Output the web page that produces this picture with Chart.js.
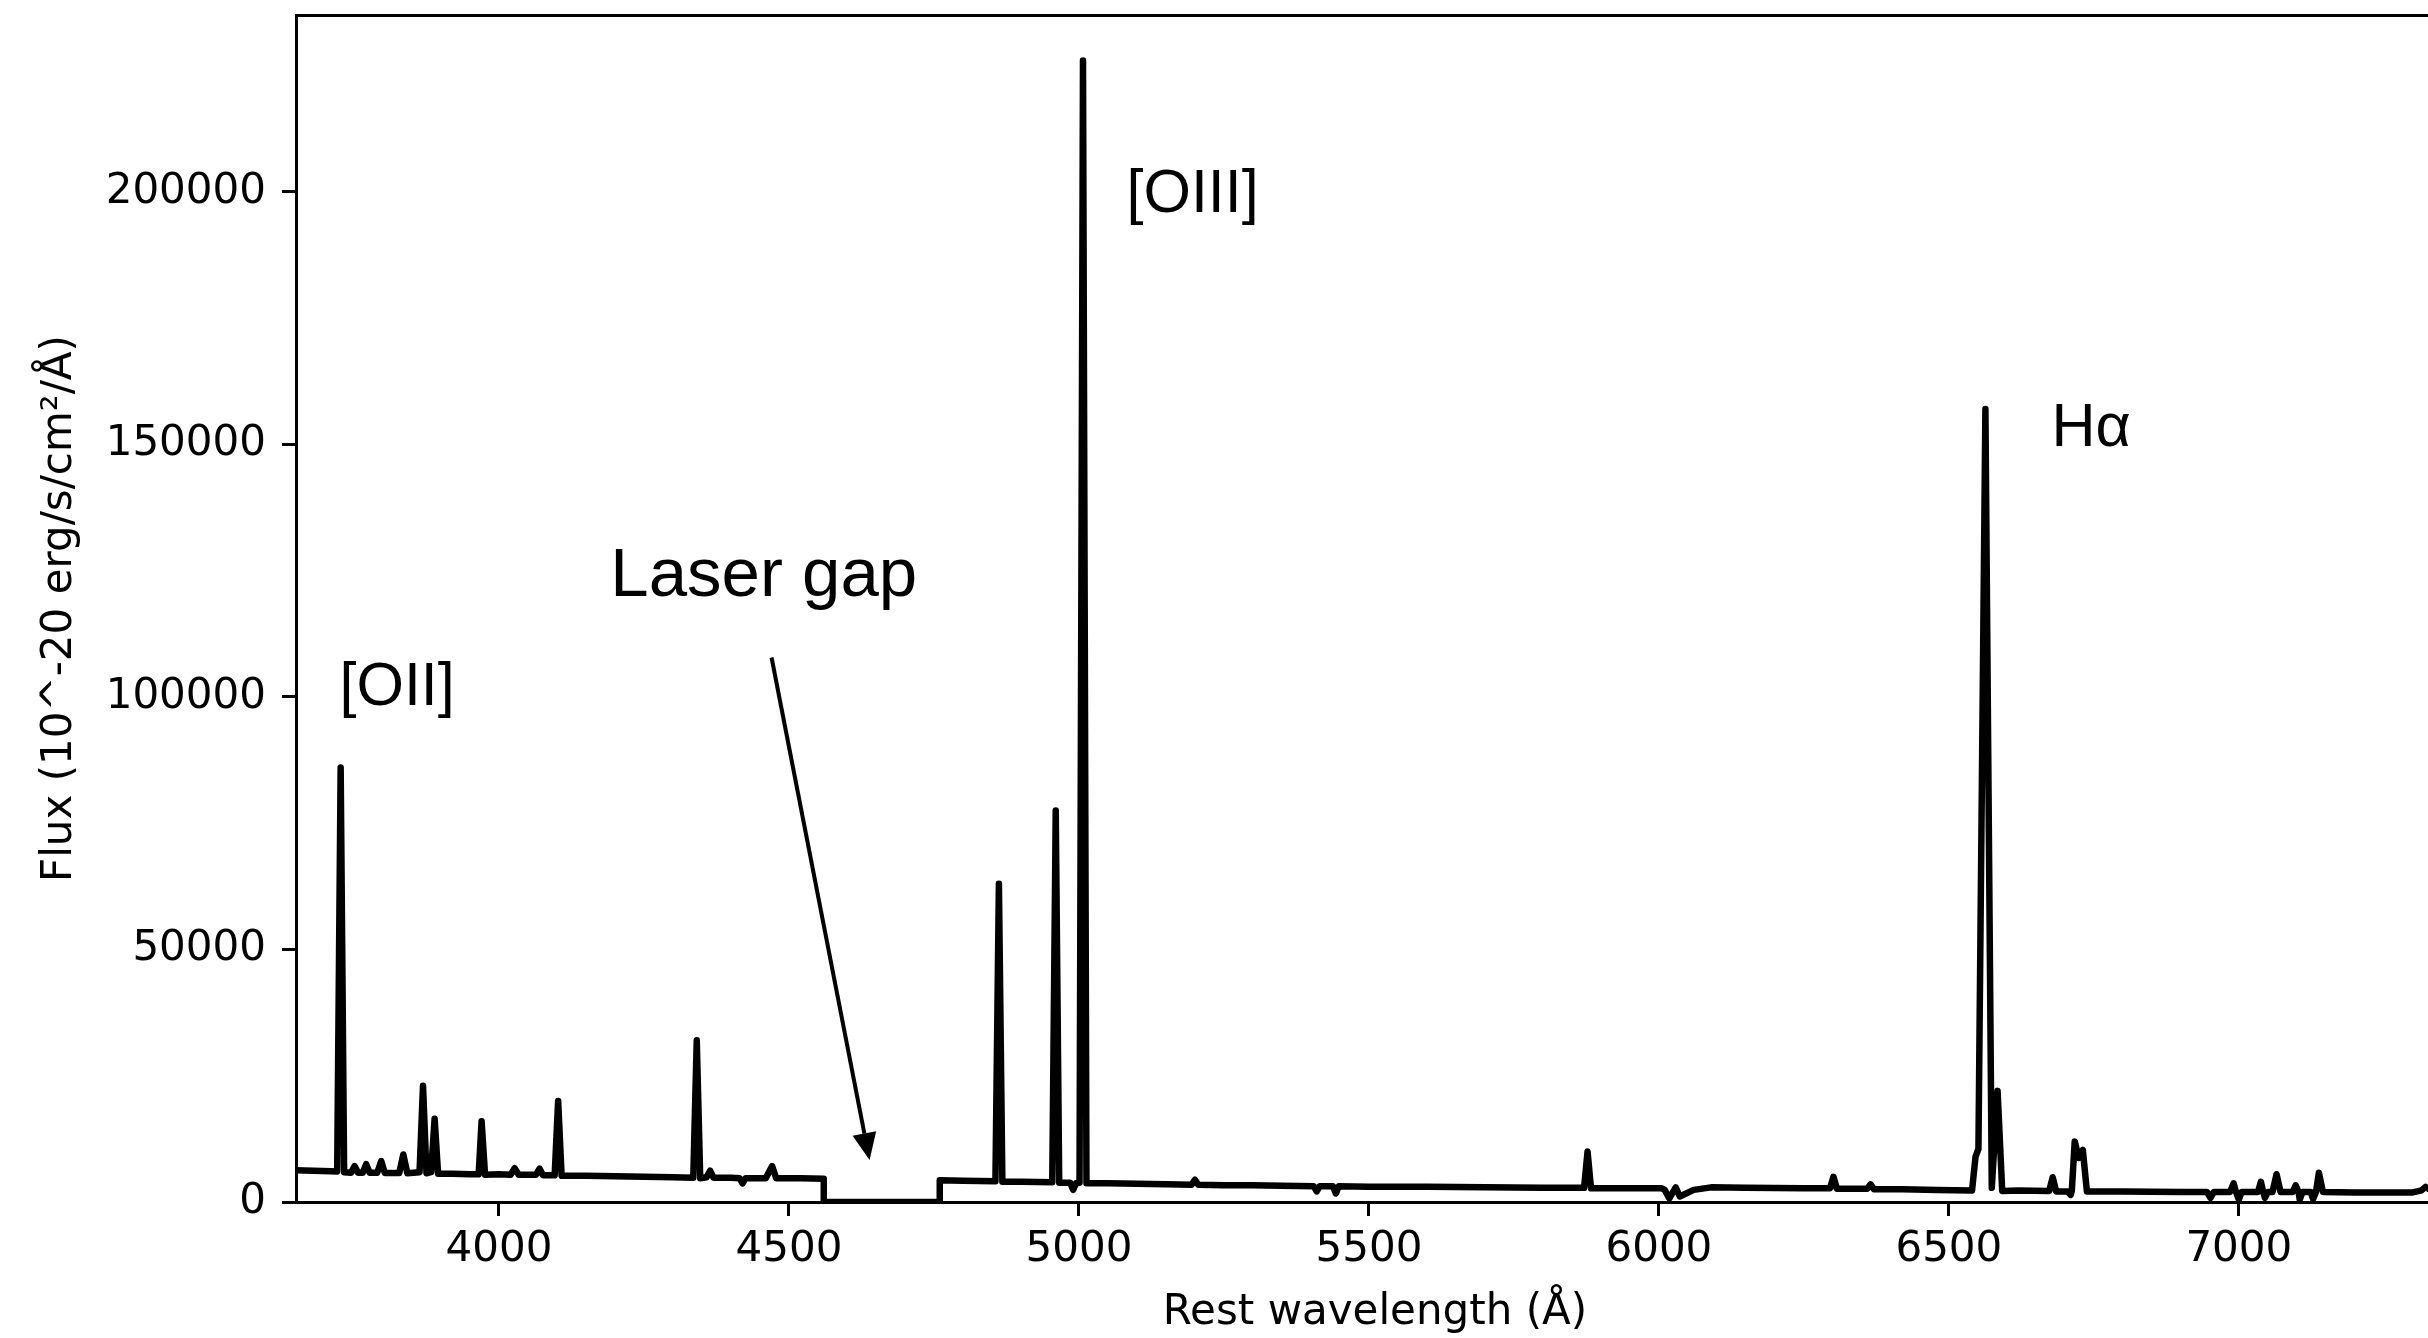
<!DOCTYPE html>
<html>
<head>
<meta charset="utf-8">
<script src="https://cdn.jsdelivr.net/npm/chart.js@4"></script>
<style>
  html, body { margin: 0; padding: 0; background: #fff; overflow: hidden; }
  canvas { display: block; }
</style>
</head>
<body>
<canvas id="spectrum" width="2460" height="1338"></canvas>
<script>
// blue arm, up to the laser notch
const blueWave = [3650, 3680, 3710, 3721, 3727, 3733, 3745, 3751, 3757, 3765, 3771, 3777, 3790, 3797, 3803,
  3828, 3835, 3842, 3863, 3869, 3875, 3883, 3889, 3895, 3920, 3950, 3965, 3970, 3976, 4000,
  4020, 4027, 4034, 4064, 4070, 4076, 4096, 4102, 4108, 4150, 4200, 4250, 4300, 4335, 4341,
  4347, 4358, 4364, 4370, 4400, 4415, 4420, 4425, 4460, 4471, 4478, 4520, 4560];
const blueFlux = [6300, 6200, 6100, 6050, 86000, 5900, 5800, 7100, 5800, 5800, 7500, 5800, 5800, 8100, 5750,
  5750, 9400, 5700, 5900, 23000, 5700, 5900, 16500, 5600, 5600, 5500, 5500, 16000, 5400, 5500,
  5400, 6700, 5400, 5400, 6600, 5300, 5300, 20000, 5200, 5200, 5100, 5000, 4900, 4800, 32000,
  4700, 4900, 6200, 4800, 4800, 4700, 3700, 4700, 4700, 7100, 4700, 4700, 4600];

// laser notch: no flux
const gapWave = [4560, 4760];
const gapFlux = [0, 0];

// red arm
const redWave = [4760, 4800, 4856, 4862, 4868, 4900, 4954, 4960, 4966, 4985, 4990, 4995, 5001, 5007, 5013,
  5050, 5100, 5150, 5194, 5200, 5206, 5250, 5300, 5350, 5405, 5410, 5415, 5438, 5443, 5448,
  5500, 5600, 5700, 5800, 5871, 5877, 5883, 5950, 6005, 6010, 6018, 6029, 6036, 6060, 6090,
  6150, 6250, 6295, 6301, 6307, 6359, 6365, 6371, 6420, 6480, 6540, 6546, 6551, 6563, 6574,
  6584, 6592, 6620, 6673, 6679, 6685, 6705, 6710, 6712, 6717, 6724, 6731, 6738, 6800, 6900,
  6945, 6951, 6957, 6985, 6991, 6995, 7000, 7005, 7033, 7038, 7042, 7045, 7050, 7058, 7065,
  7072, 7093, 7098, 7103, 7105, 7110, 7124, 7128, 7133, 7138, 7145, 7200, 7250, 7300, 7315,
  7322, 7330, 7371];
const redFlux = [4300, 4200, 4100, 63000, 4000, 4000, 3900, 77500, 3800, 3800, 2400, 3700, 3800, 226000, 3700,
  3700, 3600, 3500, 3400, 4400, 3400, 3300, 3300, 3200, 3100, 2100, 3100, 3100, 1700, 3100,
  3000, 3000, 2900, 2800, 2800, 10000, 2700, 2700, 2700, 2400, 700, 2900, 1100, 2400, 2900,
  2800, 2700, 2700, 5000, 2600, 2600, 3500, 2500, 2500, 2400, 2300, 9000, 10500, 157000, 2800,
  22000, 2200, 2300, 2200, 4900, 2100, 2100, 1400, 2200, 12000, 8700, 10300, 2100, 2100, 2000,
  2000, 800, 2000, 2000, 3700, 2000, 500, 2000, 2000, 4000, 2000, 800, 2000, 2000, 5500,
  2000, 2000, 3300, 2000, 500, 2000, 2000, 600, 2000, 5800, 2000, 1900, 1900, 1900, 2300,
  3000, 2400, 1900];

const xTicks = [4000, 4500, 5000, 5500, 6000, 6500, 7000];
const yTicks = [0, 50000, 100000, 150000, 200000];

// line labels, anchored at (wavelength, flux) like text in data coordinates
const labelText = ['[OII]', '[OIII]', 'H\u03b1'];
const labelWave = [3725, 5082, 6677];
const labelFlux = [98400, 196000, 149600];

const gapText = 'Laser gap';
const gapTextAt = [4192, 120000];
const arrowFrom = [4470, 107800];
const arrowTo = [4639, 8300];

const toPoints = (w, f) => w.map((x, i) => ({ x: x, y: f[i] }));
const spectrum = toPoints(blueWave, blueFlux)
  .concat(toPoints(gapWave, gapFlux))
  .concat(toPoints(redWave, redFlux));

Chart.defaults.font.family = "'DejaVu Sans'";
Chart.defaults.color = '#000';

const annotations = {
  id: 'annotations',
  afterDatasetsDraw(chart) {
    const { ctx, scales: { x, y } } = chart;
    ctx.save();
    ctx.fillStyle = '#000';
    ctx.strokeStyle = '#000';
    ctx.textAlign = 'left';
    ctx.textBaseline = 'alphabetic';

    ctx.font = "61px 'Liberation Sans'";
    labelText.forEach((t, i) => {
      ctx.fillText(t, x.getPixelForValue(labelWave[i]), y.getPixelForValue(labelFlux[i]));
    });

    ctx.font = "69px 'Liberation Sans'";
    ctx.fillText(gapText, x.getPixelForValue(gapTextAt[0]), y.getPixelForValue(gapTextAt[1]));

    // arrow pointing into the notch
    const x0 = x.getPixelForValue(arrowFrom[0]), y0 = y.getPixelForValue(arrowFrom[1]);
    const x1 = x.getPixelForValue(arrowTo[0]), y1 = y.getPixelForValue(arrowTo[1]);
    const ang = Math.atan2(y1 - y0, x1 - x0);
    const headLen = 27, headHalf = 12;
    const bx = x1 - headLen * Math.cos(ang), by = y1 - headLen * Math.sin(ang);
    ctx.lineWidth = 4;
    ctx.beginPath();
    ctx.moveTo(x0, y0);
    ctx.lineTo(bx, by);
    ctx.stroke();
    ctx.beginPath();
    ctx.moveTo(x1, y1);
    ctx.lineTo(bx + headHalf * Math.sin(ang), by - headHalf * Math.cos(ang));
    ctx.lineTo(bx - headHalf * Math.sin(ang), by + headHalf * Math.cos(ang));
    ctx.closePath();
    ctx.fill();
    ctx.restore();
  }
};

const tickFont = { family: "'DejaVu Sans'", size: 42 };

new Chart(document.getElementById('spectrum'), {
  type: 'line',
  data: {
    datasets: [{
      data: spectrum,
      borderColor: '#000',
      borderWidth: 6.5,
      borderJoinStyle: 'round',
      borderCapStyle: 'round',
      pointRadius: 0,
      tension: 0,
      fill: false
    }]
  },
  options: {
    responsive: false,
    animation: false,
    devicePixelRatio: 1,
    layout: { padding: { left: 0, top: 15, right: 6, bottom: 0 } },
    plugins: {
      legend: { display: false },
      tooltip: { enabled: false }
    },
    scales: {
      x: {
        type: 'linear',
        position: 'bottom',
        min: 3650,
        max: 7371,
        afterBuildTicks: (s) => { s.ticks = xTicks.map(v => ({ value: v })); },
        afterFit: (s) => { s.height = 136; s.paddingLeft = 0; s.paddingRight = 0; },
        grid: { drawOnChartArea: false, drawTicks: true, tickLength: 14, tickWidth: 3, tickColor: '#000' },
        border: { display: true, color: '#000', width: 3 },
        ticks: { font: tickFont, color: '#000', padding: 9, maxRotation: 0, autoSkip: false, callback: (v) => String(v) },
        title: { display: true, text: 'Rest wavelength (Å)', font: tickFont, color: '#000', padding: { top: 0, bottom: 0 } }
      },
      xTop: {
        type: 'linear',
        position: 'top',
        min: 3650,
        max: 7371,
        afterFit: (s) => { s.height = 0; s.paddingLeft = 0; s.paddingRight = 0; },
        grid: { drawOnChartArea: false, drawTicks: false },
        border: { display: true, color: '#000', width: 3 },
        ticks: { display: false }
      },
      y: {
        type: 'linear',
        position: 'left',
        min: 0,
        max: 235000,
        afterBuildTicks: (s) => { s.ticks = yTicks.map(v => ({ value: v })); },
        afterFit: (s) => { s.width = 296; s.paddingTop = 0; s.paddingBottom = 0; },
        grid: { drawOnChartArea: false, drawTicks: true, tickLength: 14, tickWidth: 3, tickColor: '#000' },
        border: { display: true, color: '#000', width: 3 },
        ticks: { font: tickFont, color: '#000', padding: 16, callback: (v) => String(v) },
        title: { display: true, text: 'Flux (10^-20 erg/s/cm²/Å)', font: tickFont, color: '#000', padding: { top: 35, bottom: 0 } }
      }
    }
  },
  plugins: [annotations]
});
</script>
</body>
</html>
